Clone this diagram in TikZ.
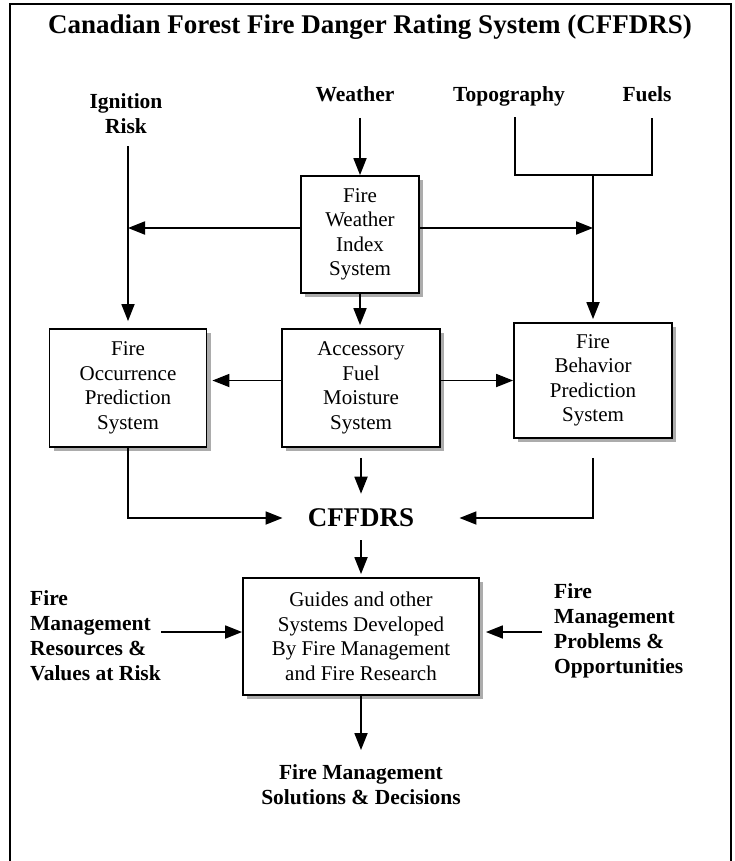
\documentclass[tikz,border=0pt]{standalone}
\usepackage{fontspec}
\setmainfont{Liberation Serif}
\usepackage{tikz}
\usetikzlibrary{arrows.meta,positioning,calc,shadows}

\begin{document}
\begin{tikzpicture}[x=1pt,y=-1pt,
  sysbox/.style={draw,line width=1.8pt,fill=white,align=center,inner sep=0pt,
    font=\fontsize{21}{24.5}\selectfont,
    drop shadow={shadow xshift=4pt,shadow yshift=-4pt,fill=gray!65,opacity=1}},
  lbl/.style={font=\bfseries\fontsize{21.5}{25}\selectfont,inner sep=0pt},
  arr/.style={line width=1.8pt,-{Triangle[length=17pt,width=13pt]}},
  ln/.style={line width=1.8pt}]
\useasboundingbox (0,0) rectangle (735,861);
% Outer frame
\draw[line width=2.2pt] (10,861) -- (10,4) -- (731,4) -- (731,861);
% Title
\node[lbl,font=\bfseries\fontsize{27}{30}\selectfont] (title) at (370,27)
  {Canadian Forest Fire Danger Rating System (CFFDRS)};
% Inputs
\node[lbl,align=center] (ign) at (126,114) {Ignition\\Risk};
\node[lbl] (wea) at (355,94) {Weather};
\node[lbl] (topo) at (509,96.3) {Topography};
\node[lbl] (fuels) at (647,94) {Fuels};
% Systems
\node[sysbox,minimum width=118pt,minimum height=117pt] (fwi) at (360,234.5)
  {Fire\\Weather\\Index\\System};
\node[sysbox,minimum width=157pt,minimum height=118pt] (occ) at (128,388)
  {Fire\\Occurrence\\Prediction\\System};
\node[sysbox,minimum width=158pt,minimum height=118pt] (afm) at (361,388)
  {Accessory\\Fuel\\Moisture\\System};
\node[sysbox,minimum width=158pt,minimum height=115pt] (fbp) at (593,380.5)
  {Fire\\Behavior\\Prediction\\System};
\node[lbl,font=\bfseries\fontsize{27}{30}\selectfont] (cff) at (361,518) {CFFDRS};
\node[sysbox,minimum width=236pt,minimum height=117pt] (guides) at (361,636.5)
  {Guides and other\\Systems Developed\\By Fire Management\\and Fire Research};
% Side inputs and output
\node[lbl,align=left,anchor=west] (res) at (30,635.5)
  {Fire\\Management\\Resources \&\\Values at Risk};
\node[lbl,align=left,anchor=west] (prob) at (554,630.6)
  {Fire\\Management\\Problems \&\\Opportunities};
\node[lbl,align=center] (dec) at (361,784.3)
  {Fire Management\\Solutions \& Decisions};
% Junction points
\coordinate (tj) at (515,175);
\coordinate (fj) at (652,175);
\coordinate (fw) at ($(fwi.west)+(0,-6.5)$);
\coordinate (fe) at ($(fwi.east)+(0,-6.5)$);
\coordinate (gl) at ($(guides.west)+(0,-4.5)$);
\coordinate (gr) at ($(guides.east)+(0,-4.5)$);
% Top arrows
\draw[arr,shorten <=16pt] (wea.south -| fwi.north) -- (fwi.north);
\draw[ln,shorten <=11pt,shorten >=16pt] (tj |- topo.south) -- (tj) -- (fj) -- (fj |- fuels.south);
\draw[arr,shorten >=3pt] (tj -| fbp.north) -- (fbp.north);
\draw[arr,shorten <=12pt,shorten >=7pt] (ign.south -| occ.north) -- (occ.north);
\draw[arr] (fw) -- (fw -| occ.north);
\draw[arr] (fe) -- (fe -| fbp.north);
\draw[arr,shorten >=3pt] (fwi.south) -- (fwi.south |- afm.north);
% Middle arrows
\draw[arr,shorten >=5pt] (afm.west |- fbp.west) -- (occ.east |- fbp.west);
\draw[arr] (afm.east |- fbp.west) -- (fbp.west);
\draw[arr,shorten <=10pt,shorten >=15pt] (afm.south) -- (cff.north);
\draw[arr,shorten >=25pt] (occ.south) |- (cff.west);
\draw[arr,shorten <=19pt,shorten >=45pt] (fbp.south) |- (cff.east);
% Bottom arrows
\draw[arr,shorten <=13pt,shorten >=3pt] (cff.south) -- (guides.north);
\draw[arr] (res.east |- gl) -- (gl);
\draw[arr,shorten <=12pt,shorten >=6pt] (prob.west |- gr) -- (gr);
\draw[arr,shorten >=14pt] (guides.south) -- (dec.north);
\end{tikzpicture}
\end{document}
